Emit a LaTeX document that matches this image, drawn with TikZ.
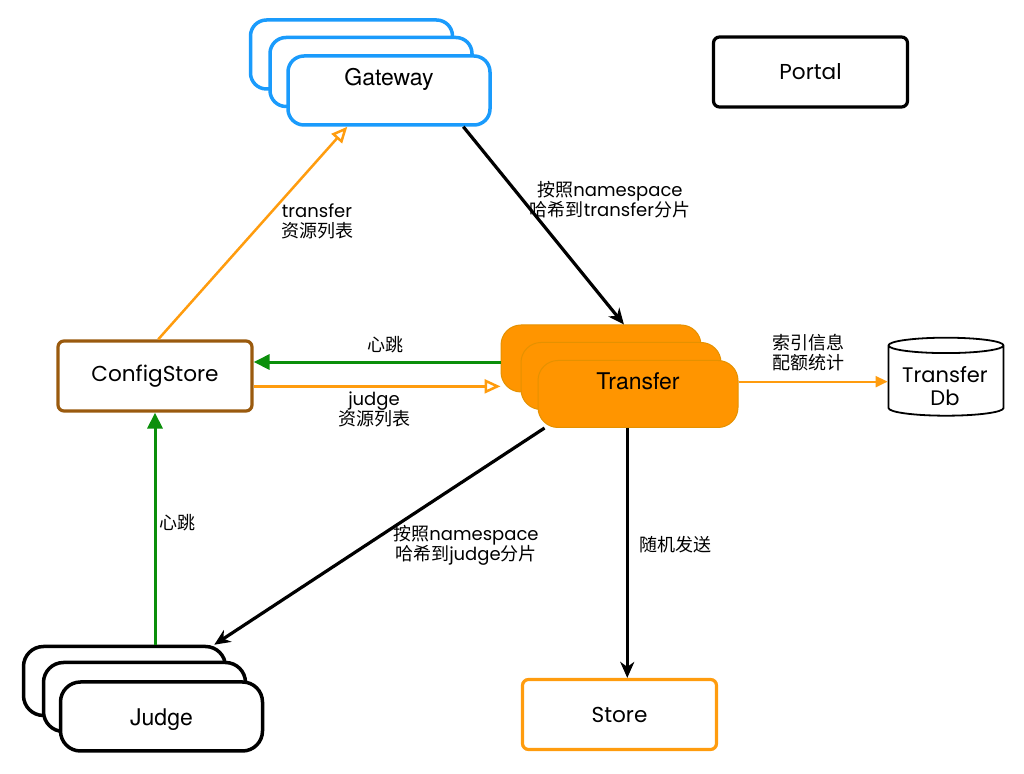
\documentclass[tikz,border=0pt]{standalone}
\usepackage{fontspec}
\setmainfont{TeX Gyre Heros}
\newfontfamily\geo{Poppins}
\newfontfamily\cjk{Noto Sans CJK SC}
\newcommand{\zh}[1]{{\cjk #1}}
\usetikzlibrary{arrows.meta,shapes.geometric}
\definecolor{gwBlue}{HTML}{1A9BFC}
\definecolor{trOrange}{HTML}{FF9500}
\definecolor{lineOrange}{HTML}{FF9C0E}
\definecolor{csBrown}{HTML}{9A5A0E}
\definecolor{hbGreen}{HTML}{0B8F0B}
\colorlet{trBorder}{trOrange!80!olive}

\begin{document}
\begin{tikzpicture}[x=0.5pt, y=-0.5pt, every node/.style={inner sep=0pt},
    stackbox/.style={draw, fill=white, rounded corners=8pt, minimum width=101pt, minimum height=34.5pt, line width=1.75pt},
    plainbox/.style={draw, rounded corners=3pt, minimum width=97pt, minimum height=35pt, line width=1.6pt, font=\geo\fontsize{10.8}{12}\selectfont},
    lbl/.style={font=\geo\fontsize{9}{10}\selectfont, align=center},
    blackarrow/.style={line width=1.6pt, -{Stealth[length=8pt, width=7pt, inset=2.5pt]}},
    cfgarrow/.style={lineOrange, line width=1.25pt, -{Triangle[open, length=8pt, width=7pt, line width=1.25pt]}},
    hbarrow/.style={hbGreen, line width=1.5pt, -{Triangle[length=8pt, width=7.5pt]}}]
    \useasboundingbox (0,0) rectangle (1024,774);

    % Gateway
    \node[stackbox, draw=gwBlue] (gw3) at (351.5,54.5) {};
    \node[stackbox, draw=gwBlue] (gw2) at (371,72) {};
    \node[stackbox, draw=gwBlue, label={[yshift=5.5pt, font=\fontsize{11.5}{13}\selectfont]center:Gateway}] (gw1) at (389,90.5) {};

    % Transfer
    \node[stackbox, draw=trBorder, fill=trOrange, line width=0.5pt, rounded corners=10pt, minimum width=100pt, minimum height=33.5pt] (tr3) at (601,358.5) {};
    \node[stackbox, draw=trBorder, fill=trOrange, line width=0.5pt, rounded corners=10pt, minimum width=100pt, minimum height=33.5pt] (tr2) at (621,376) {};
    \node[stackbox, draw=trBorder, fill=trOrange, line width=0.5pt, rounded corners=10pt, minimum width=100pt, minimum height=33.5pt, label={[yshift=6.5pt, font=\fontsize{11.5}{13}\selectfont]center:Transfer}] (tr1) at (638,394) {};

    % Judge
    \node[stackbox, rounded corners=10pt] (jd3) at (124.5,681) {};
    \node[stackbox, rounded corners=10pt] (jd2) at (144.5,697) {};
    \node[stackbox, rounded corners=10pt, label={[yshift=-1.5pt, font=\fontsize{11.5}{13}\selectfont]center:Judge}] (jd1) at (161.5,716.5) {};

    % single boxes
    \node[plainbox, draw=csBrown] (cs) at (155,376) {ConfigStore};
    \node[plainbox] (pt) at (810.5,72) {Portal};
    \node[plainbox, draw=lineOrange] (st) at (619.5,714.5) {Store};
    \node[cylinder, shape border rotate=90, draw, line width=0.9pt, aspect=0.18, minimum width=57.5pt, minimum height=39pt, align=center, font=\geo\fontsize{10.5}{11.5}\selectfont] (db) at (946,381) {\phantom{Transfer}\\\phantom{Db}};
    \node[align=center, font=\geo\fontsize{10.5}{11.5}\selectfont] (dbtext) at (945,386) {Transfer\\Db};

    % connectors
    \draw[blackarrow] (gw1.-26) -- (tr3.56);
    \draw[cfgarrow] (cs.85) -- (gw1.-139.5);
    \draw[hbarrow] (tr3.182) -- (tr3.182 -| cs.east);
    \draw[cfgarrow] (cs.-6) -- (cs.-6 -| tr3.west);
    \draw[lineOrange, line width=1pt, -{Triangle[length=6pt, width=5.5pt]}] (tr1.7) -- (tr1.7 -| db.west);
    \draw[blackarrow] (tr1.-160) -- (jd3.22);
    \draw[blackarrow] (st.78 |- tr1.south) -- (st.78);
    \draw[hbarrow] (cs.south |- jd3.north) -- (cs.south);

    % labels
    \node[lbl] (lgt) at (610,200) {\zh{按照}namespace\\\zh{哈希到}transfer\zh{分片}};
    \node[lbl] (lcg) at (317,221) {transfer\\\zh{资源列表}};
    \node[lbl] (lhb1) at (385,345) {\zh{心跳}};
    \node[lbl] (lcj) at (374,409) {judge\\\zh{资源列表}};
    \node[lbl] (ldb) at (808,353) {\zh{索引信息}\\\zh{配额统计}};
    \node[lbl] (ltj) at (466,545) {\zh{按照}namespace\\\zh{哈希到}judge\zh{分片}};
    \node[lbl] (lst) at (675,545) {\zh{随机发送}};
    \node[lbl] (lhb2) at (177,523) {\zh{心跳}};
\end{tikzpicture}
\end{document}
